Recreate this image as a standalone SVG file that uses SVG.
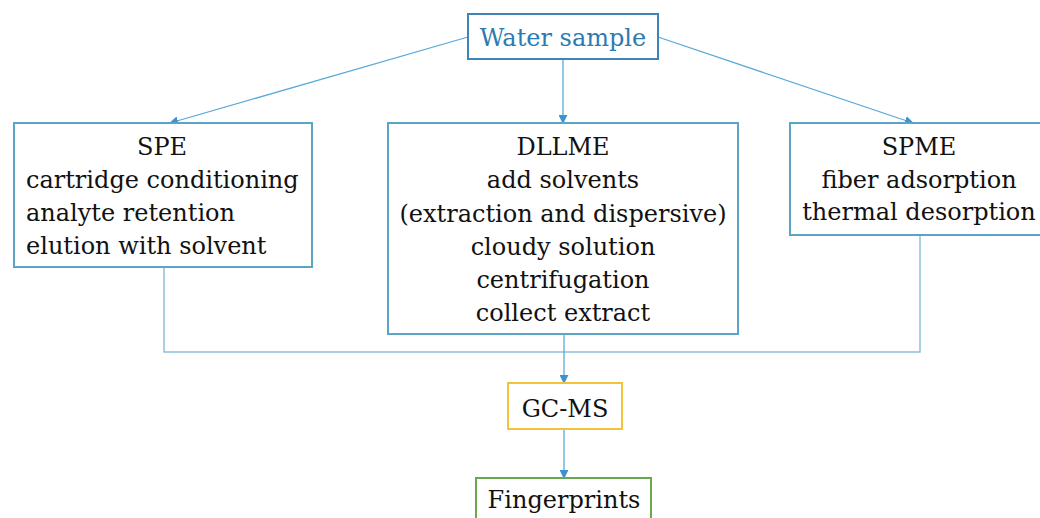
<svg xmlns="http://www.w3.org/2000/svg" width="1040" height="518" viewBox="0 0 1040 518">
<defs>
<style>
.box{fill:#fff;stroke:#5aa4c8;stroke-width:2}
.ln{fill:none;stroke:#5aaad8;stroke-width:1.3}
.bus{fill:none;stroke:#8ec0d8;stroke-width:1.5}
</style>
<marker id="ah" viewBox="0 0 10 10" refX="9" refY="5" markerWidth="9" markerHeight="9" markerUnits="userSpaceOnUse" orient="auto">
<path d="M0,0 L10,5 L0,10 z" fill="#3a92d0"/>
</marker>
</defs>
<rect width="1040" height="518" fill="#fff"/>
<g id="connectors">
<line class="ln" x1="468" y1="37" x2="170" y2="123" marker-end="url(#ah)"/>
<line class="ln" x1="563" y1="59" x2="563" y2="123" marker-end="url(#ah)"/>
<line class="ln" x1="658" y1="37" x2="913" y2="123" marker-end="url(#ah)"/>
<polyline class="bus" points="164,267 164,352 920,352 920,235"/>
<line class="ln" x1="564" y1="334" x2="564" y2="383" marker-end="url(#ah)"/>
<line class="ln" x1="564" y1="429" x2="564" y2="478" marker-end="url(#ah)"/>
</g>
<g font-family="'DejaVu Serif', serif" font-size="24" fill="#111">
<g id="water">
<rect x="468" y="14" width="190" height="45" fill="#fff" stroke="#3d84b8" stroke-width="2"/>
<text x="563" y="46" text-anchor="middle" fill="#2b7bb3">Water sample</text>
</g>
<g id="spe">
<rect class="box" x="14" y="123" width="298" height="144"/>
<text x="162" y="155" text-anchor="middle">SPE</text>
<text x="26" y="188">cartridge conditioning</text>
<text x="26" y="221">analyte retention</text>
<text x="26" y="254">elution with solvent</text>
</g>
<g id="dllme">
<rect class="box" x="388" y="123" width="350" height="211"/>
<text x="563" y="155" text-anchor="middle">DLLME</text>
<text x="563" y="188" text-anchor="middle">add solvents</text>
<text x="563" y="222" text-anchor="middle">(extraction and dispersive)</text>
<text x="563" y="255" text-anchor="middle">cloudy solution</text>
<text x="563" y="288" text-anchor="middle">centrifugation</text>
<text x="563" y="321" text-anchor="middle">collect extract</text>
</g>
<g id="spme">
<rect class="box" x="790" y="123" width="260" height="112"/>
<text x="919" y="155" text-anchor="middle">SPME</text>
<text x="919" y="188" text-anchor="middle">fiber adsorption</text>
<text x="919" y="220" text-anchor="middle">thermal desorption</text>
</g>
<g id="gcms">
<rect x="508" y="383" width="114" height="46" fill="#fff" stroke="#f2c23c" stroke-width="2"/>
<text x="565" y="417" text-anchor="middle">GC-MS</text>
</g>
<g id="fingerprints">
<rect x="476" y="478" width="175" height="60" fill="#fff" stroke="#6aa84f" stroke-width="2"/>
<text x="564" y="508" text-anchor="middle">Fingerprints</text>
</g>
</g>
</svg>
